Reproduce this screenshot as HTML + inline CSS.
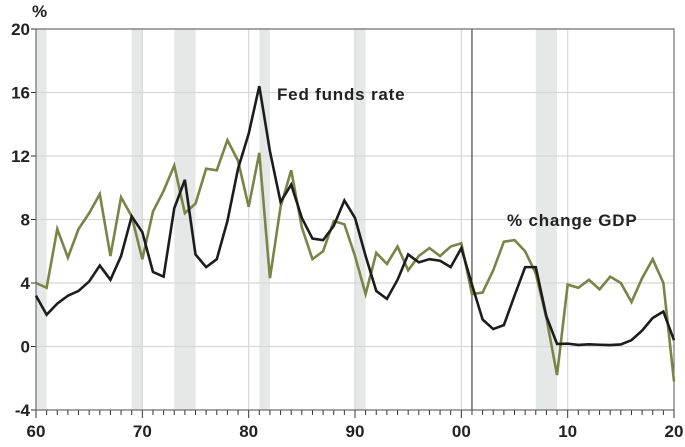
<!DOCTYPE html>
<html><head><meta charset="utf-8"><style>
body{margin:0;background:#fff;}
svg{display:block;font-family:"Liberation Sans",Arial,sans-serif;}
</style></head><body>
<svg id="chart" width="685" height="447"></svg>
<script>
const years = [];
for (let y = 1960; y <= 2020; y++) years.push(y);
const fedFunds = [3.2,2.0,2.7,3.2,3.5,4.1,5.1,4.2,5.7,8.2,7.2,4.7,4.4,8.7,10.5,5.8,5.0,5.5,7.9,11.2,13.4,16.4,12.3,9.1,10.2,8.1,6.8,6.7,7.6,9.2,8.1,5.7,3.5,3.0,4.2,5.8,5.3,5.5,5.4,5.0,6.2,3.9,1.7,1.1,1.35,3.2,5.0,5.0,1.9,0.16,0.18,0.1,0.14,0.11,0.09,0.13,0.4,1.0,1.8,2.2,0.4];
const gdpGrowth = [4.0,3.7,7.4,5.6,7.4,8.4,9.6,5.7,9.4,8.2,5.5,8.5,9.8,11.4,8.4,9.0,11.2,11.1,13.0,11.7,8.8,12.2,4.3,8.8,11.1,7.5,5.5,6.0,7.9,7.7,5.7,3.3,5.9,5.2,6.3,4.8,5.7,6.2,5.7,6.3,6.5,3.3,3.4,4.8,6.6,6.7,6.0,4.6,1.8,-1.8,3.9,3.7,4.2,3.6,4.4,4.0,2.8,4.3,5.5,4.0,-2.2];
const recessions = [[1960,1961],[1969,1970],[1973,1975],[1981,1982],[1990,1991],[2007,2009]];
const yTicks = [20,16,12,8,4,0,-4];
const xTickYears = [1960,1970,1980,1990,2000,2010,2020];
const xTickLabels = ["60","70","80","90","00","10","20"];

const NS = "http://www.w3.org/2000/svg";
const svg = document.getElementById("chart");
const L=36,R=674,T=29,B=410;
const x = yr => L + (yr-1960)*(R-L)/60;
const y = v => T + (20-v)*(B-T)/24;
function mk(tag, attrs, parent){const e=document.createElementNS(NS,tag);for(const k in attrs)e.setAttribute(k,attrs[k]);(parent||svg).appendChild(e);return e;}

recessions.forEach(r=>{
  const e = mk("rect",{x:x(r[0]),y:T,width:x(r[1])-x(r[0]),height:B-T,fill:"#e6e8e8"});
  
  
});
yTicks.forEach(v=>{
  const g = mk("line",{x1:L,x2:R,y1:y(v),y2:y(v),stroke:"#d8d8d8","stroke-width":1.2});
  
  
  const tk = mk("line",{x1:L-5,x2:L,y1:y(v),y2:y(v),stroke:"#333","stroke-width":1});
  
  
  const t = mk("text",{x:L-6,y:y(v)+6,"text-anchor":"end","font-size":17,"font-weight":"bold",fill:"#222"});
  t.textContent = v;
  
  
});
xTickYears.forEach((yr,i)=>{
  if(i>0&&i<6){
    const g = mk("line",{x1:x(yr),x2:x(yr),y1:T,y2:B,stroke:"#d8d8d8","stroke-width":1.2});
    
    
  }
  const t = mk("text",{x:x(yr),y:B+27,"text-anchor":"middle","font-size":17,"font-weight":"bold",fill:"#222"});
  t.textContent = xTickLabels[i];
  
  
});
years.forEach(yr=>{
  const major = yr%10===0;
  const tk = mk("line",{x1:x(yr),x2:x(yr),y1:B,y2:B+(major?8:5),stroke:"#333","stroke-width":1});
  
  
});
const v01 = mk("line",{x1:x(2001),x2:x(2001),y1:T,y2:B,stroke:"#222","stroke-width":1});


const frame = mk("rect",{x:L,y:T,width:R-L,height:B-T,fill:"none",stroke:"#555","stroke-width":1});



function series(vals,color,name){
  const p = mk("polyline",{points:vals.map((v,i)=>x(years[i])+","+y(v)).join(" "),fill:"none",stroke:color,"stroke-width":2.6,"stroke-linejoin":"miter"});
  
  
}
series(gdpGrowth,"#7a8447","gdp-growth-line");
series(fedFunds,"#1c1c1c","fed-funds-line");

function label(txt,xx,yy,name){
  const t = mk("text",{x:xx,y:yy,"font-size":17,"font-weight":"bold",fill:"#222","letter-spacing":"0.8"});
  t.textContent = txt;
  
  
}
label("Fed funds rate",277,100,"fed-funds-label");
label("% change GDP",507,226,"gdp-label");
label("%",32,17,"y-axis-unit");
</script>
</body></html>
